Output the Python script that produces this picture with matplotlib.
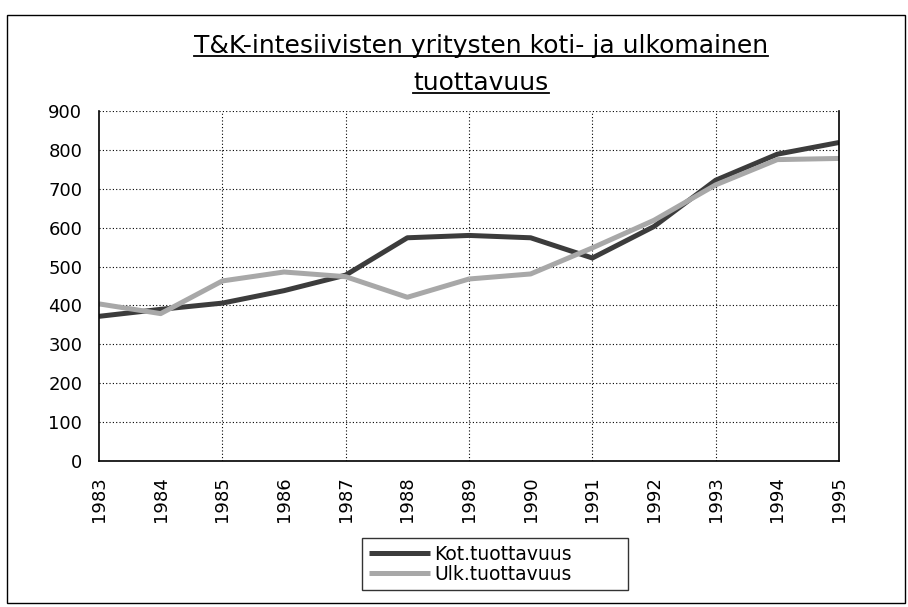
import matplotlib.pyplot as plt
from matplotlib.patches import Rectangle
from matplotlib.lines import Line2D

plt.rcParams['font.family'] = ['DejaVu Sans']

years = [1983, 1984, 1985, 1986, 1987, 1988, 1989, 1990, 1991, 1992, 1993, 1994, 1995]
kot = [372, 390, 406, 438, 478, 574, 580, 574, 522, 603, 722, 789, 819]
ulk = [404, 379, 463, 486, 474, 421, 468, 481, 548, 619, 710, 775, 778]
title_lines = ['T&K-intesiivisten yritysten koti- ja ulkomainen', 'tuottavuus']

W, H = 908, 607
fig = plt.figure(figsize=(W / 100, H / 100), dpi=100)
ax = fig.add_axes([99 / W, 1 - 461 / H, 740 / W, 350 / H])

ax.plot(years, kot, color='#3c3c3c', lw=3.6, label='Kot.tuottavuus', solid_capstyle='butt')
ax.plot(years, ulk, color='#a8a8a8', lw=3.6, label='Ulk.tuottavuus', solid_capstyle='butt')

ax.set_xlim(years[0], years[-1])
ax.set_ylim(0, 900)
ax.set_yticks(range(0, 901, 100))
ax.set_xticks(years)
ax.set_xticklabels([str(y) for y in years], rotation=90, fontsize=13)
ax.tick_params(axis='y', labelsize=13, length=0, pad=12)
ax.tick_params(axis='x', length=0, pad=11)

ax.yaxis.grid(True, linestyle=(0, (1, 2)), color='black', lw=0.8)
for yr in years[2:-1:2]:
    ax.axvline(yr, linestyle=(0, (1, 2)), color='black', lw=0.8, zorder=0)
ax.spines['top'].set_visible(False)
for s in ['left', 'bottom', 'right']:
    ax.spines[s].set_linewidth(1.2)

# outer chart border
fig.patches.append(Rectangle((7 / W, 4 / H), 898 / W, 588 / H, transform=fig.transFigure,
                             fill=False, edgecolor='black', lw=1.0))

# underlined two-line title
fig.canvas.draw()
r = fig.canvas.get_renderer()
inv = fig.transFigure.inverted()
for line, base in zip(title_lines, [53, 90]):
    t = fig.text(481 / W, 1 - base / H, line, ha='center', va='baseline', fontsize=18)
    bb = t.get_window_extent(r)
    x0 = inv.transform((bb.x0, 0))[0]
    x1 = inv.transform((bb.x1, 0))[0]
    yy = 1 - (base + 3) / H
    fig.add_artist(Line2D([x0, x1], [yy, yy], color='black', lw=1.3, transform=fig.transFigure))

leg = fig.legend(loc='upper left', bbox_to_anchor=(362 / W, 1 - 590 / H, 266 / W, 52 / H),
                 mode='expand', fontsize=13.5, frameon=True, fancybox=False, edgecolor='black',
                 handlelength=3.3, handletextpad=0.2, labelspacing=0.05, borderpad=0.35,
                 borderaxespad=0)
leg.get_frame().set_linewidth(1.0)

fig.savefig('out.png', dpi=100)
